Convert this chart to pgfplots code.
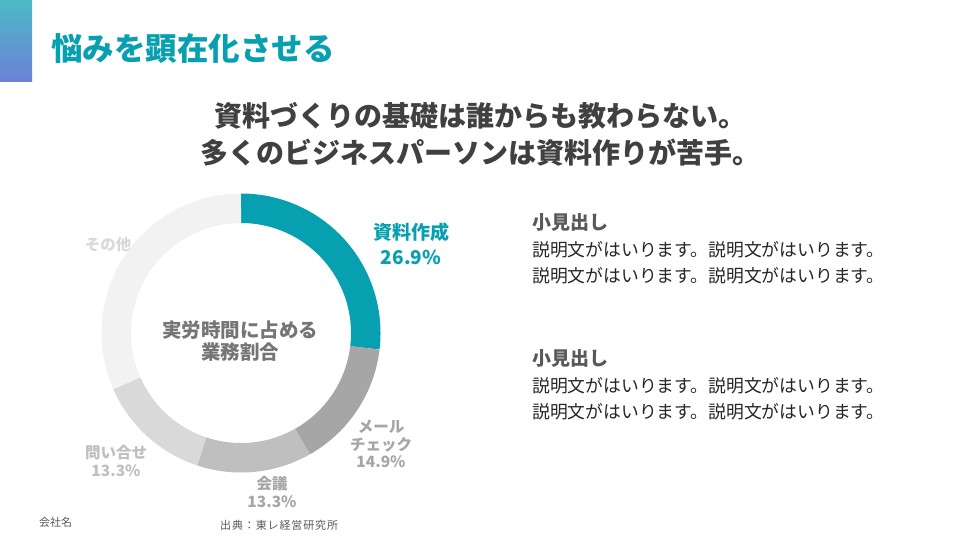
\documentclass[border=0pt]{standalone}
\usepackage{pgfplots}
\pgfplotsset{compat=1.18}
\usepackage{pgfplotstable}
\usepackage{fontspec}
\setmainfont{Noto Sans CJK JP}
\newfontfamily\spaced{Noto Sans CJK JP}[LetterSpace=8]
\definecolor{tealA}{HTML}{07A0B1}
\definecolor{segB}{HTML}{A6A6A6}
\definecolor{segC}{HTML}{BFBFBF}
\definecolor{segD}{HTML}{D9D9D9}
\definecolor{segE}{HTML}{F2F2F2}
\definecolor{subt}{HTML}{404040}
\definecolor{centr}{HTML}{757575}
\definecolor{headg}{HTML}{595959}
\definecolor{bodyc}{HTML}{262626}
\definecolor{gradtop}{HTML}{4CBAC6}
\definecolor{gradbot}{HTML}{6C80D6}
\pgfplotstableread{
label value
資料作成 26.9
メールチェック 14.9
会議 13.3
問い合せ 13.3
その他 31.6
}\donut
\begin{document}
\pgfplotstablegetelem{0}{value}\of\donut\pgfmathsetmacro\vA{\pgfplotsretval}%
\pgfplotstablegetelem{1}{value}\of\donut\pgfmathsetmacro\vB{\pgfplotsretval}%
\pgfplotstablegetelem{2}{value}\of\donut\pgfmathsetmacro\vC{\pgfplotsretval}%
\pgfplotstablegetelem{3}{value}\of\donut\pgfmathsetmacro\vD{\pgfplotsretval}%
\pgfplotstablegetelem{4}{value}\of\donut\pgfmathsetmacro\vE{\pgfplotsretval}%
\pgfmathsetmacro\tA{90-3.6*\vA}%
\pgfmathsetmacro\tB{\tA-3.6*\vB}%
\pgfmathsetmacro\tC{\tB-3.6*\vC}%
\pgfmathsetmacro\tD{\tC-3.6*\vD}%
\pgfmathsetmacro\tE{\tD-3.6*\vE}%
\begin{tikzpicture}
\begin{scope}[x=1pt,y=-1pt]
\fill[white] (0,0) rectangle (960,540);
\shade[top color=gradtop, bottom color=gradbot] (0,0) rectangle (32,82);
\node[anchor=west, inner sep=0, text=tealA, font=\fontsize{31.5}{31.5}\selectfont\bfseries] at (51,49) {悩みを顕在化させる};
\node[align=center, inner sep=0, text=subt, font=\fontsize{28}{37}\selectfont\bfseries] at (480,134) {資料づくりの基礎は誰からも教わらない。\\多くのビジネスパーソンは資料作りが苦手。};
% donut labels
\node[align=center, inner sep=0, text=centr, font=\fontsize{19.5}{22}\selectfont\bfseries] at (240,341) {実労時間に占める\\業務割合};
\node[align=center, inner sep=0, text=tealA, font=\fontsize{19}{25}\selectfont\bfseries] at (411,244) {資料作成\\26.9\%};
\node[align=center, inner sep=0, text=segB, font=\fontsize{15.5}{17.5}\selectfont\bfseries] at (381,444) {メール\\チェック\\14.9\%};
\node[align=center, inner sep=0, text=segB, font=\fontsize{15.5}{17.5}\selectfont\bfseries] at (272,492) {会議\\13.3\%};
\node[align=center, inner sep=0, text=segC, font=\fontsize{15.5}{17.5}\selectfont\bfseries] at (116,461) {問い合せ\\13.3\%};
\node[align=center, inner sep=0, text=segD, font=\fontsize{15.5}{17.5}\selectfont\bfseries] at (108,245) {その他};
% right text
\node[anchor=west, inner sep=0, text=headg, font=\fontsize{19}{19}\selectfont\bfseries] at (532,222) {小見出し};
\node[anchor=north west, align=left, inner sep=0, text=bodyc, font=\fontsize{17.8}{26}\selectfont] at (532,241) {説明文がはいります。説明文がはいります。\\説明文がはいります。説明文がはいります。};
\node[anchor=west, inner sep=0, text=headg, font=\fontsize{19}{19}\selectfont\bfseries] at (532,358) {小見出し};
\node[anchor=north west, align=left, inner sep=0, text=bodyc, font=\fontsize{17.8}{26}\selectfont] at (532,377) {説明文がはいります。説明文がはいります。\\説明文がはいります。説明文がはいります。};
% footer
\node[anchor=west, inner sep=0, text=headg, font=\fontsize{11}{11}\selectfont] at (39,522) {会社名};
\node[anchor=west, inner sep=0, text=headg, font=\spaced\fontsize{11}{11}\selectfont] at (220,525) {出典：東レ経営研究所};
\end{scope}
\begin{axis}[at={(241pt,-333pt)}, anchor=center, hide axis, scale only axis,
  width=279pt, height=279pt, xmin=-1, xmax=1, ymin=-1, ymax=1, clip=false]
\addplot[tealA, line width=29.5pt, domain=\tA:90, samples=90] ({0.8943*cos(x)},{0.8943*sin(x)});
\addplot[segB, line width=29.5pt, domain=\tB:\tA, samples=60] ({0.8943*cos(x)},{0.8943*sin(x)});
\addplot[segC, line width=29.5pt, domain=\tC:\tB, samples=60] ({0.8943*cos(x)},{0.8943*sin(x)});
\addplot[segD, line width=29.5pt, domain=\tD:\tC, samples=60] ({0.8943*cos(x)},{0.8943*sin(x)});
\addplot[segE, line width=29.5pt, domain=\tE:\tD, samples=100] ({0.8943*cos(x)},{0.8943*sin(x)});
\end{axis}
\end{tikzpicture}
\end{document}
